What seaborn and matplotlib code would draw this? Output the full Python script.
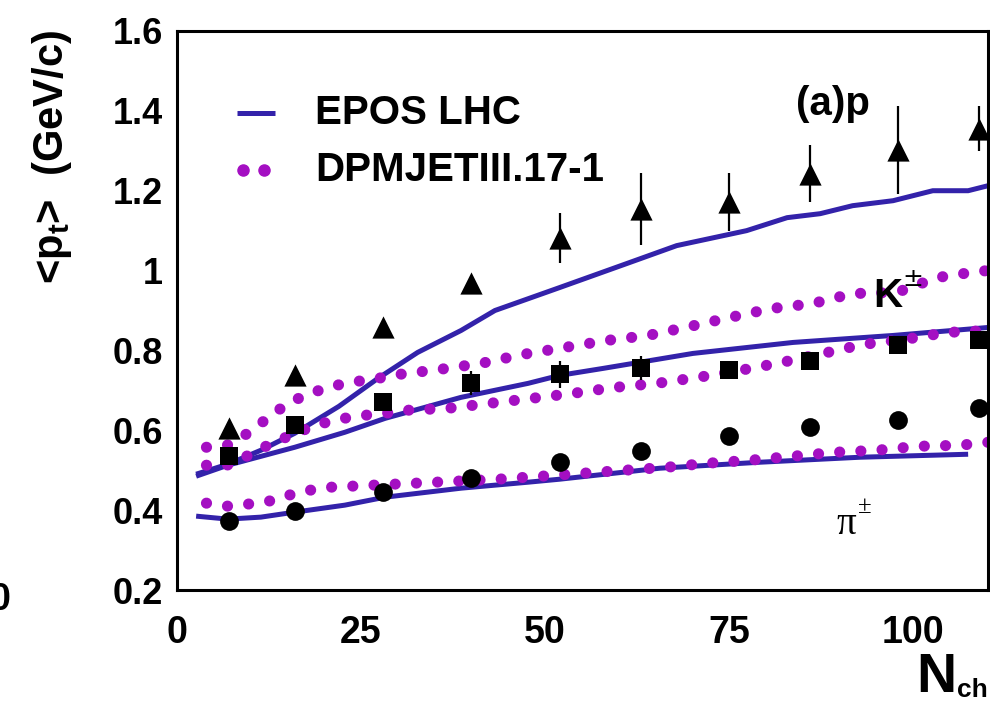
import matplotlib
matplotlib.use("Agg")
import matplotlib.pyplot as plt
from matplotlib.ticker import MultipleLocator
import seaborn as sns

# ---- measured <pT> vs charged multiplicity ----
nch = [7, 16, 28, 40, 52, 63, 75, 86, 98, 109]
proton_pt = [0.605, 0.7375, 0.8575, 0.970, 1.0825, 1.155, 1.1725, 1.2425, 1.3025, 1.355]
proton_err = [0.010, 0.010, 0.010, 0.015, 0.0625, 0.090, 0.073, 0.072, 0.110, 0.056]
kaon_pt = [0.535, 0.6125, 0.670, 0.7175, 0.740, 0.755, 0.750, 0.7725, 0.8125, 0.825]
kaon_err = [0.010, 0.010, 0.015, 0.030, 0.034, 0.030, 0.010, 0.010, 0.010, 0.010]
pion_pt = [0.3725, 0.3975, 0.445, 0.480, 0.520, 0.5475, 0.585, 0.6075, 0.625, 0.655]
pion_err = [0.005] * 10

# ---- EPOS LHC predictions ----
epos_p_x = [2.6, 6.9, 11.4, 16, 22, 27.3, 32.7, 38.6, 43.2, 52, 61.1, 67.9, 77.4,
            82.9, 87.4, 91.8, 97.3, 102.7, 107.5, 110.2]
epos_p_y = [0.490, 0.515, 0.550, 0.5925, 0.660, 0.730, 0.795, 0.850, 0.900, 0.9575,
            1.0175, 1.0625, 1.100, 1.1325, 1.1425, 1.1625, 1.175, 1.200, 1.200, 1.2125]
epos_k_x = [2.6, 6.9, 16, 22.8, 28.3, 38.6, 47.7, 52, 57.9, 70.1, 83.7, 97.3, 110.2]
epos_k_y = [0.485, 0.5125, 0.5575, 0.595, 0.630, 0.6825, 0.7175, 0.7375, 0.755,
            0.7925, 0.820, 0.8375, 0.8575]
epos_pi_x = [2.6, 6.9, 11.4, 16, 22.8, 28.3, 38.6, 47.7, 52, 65.6, 79.2, 92.8, 107.5]
epos_pi_y = [0.385, 0.3775, 0.3825, 0.395, 0.4125, 0.4325, 0.455, 0.470, 0.4775,
             0.505, 0.520, 0.5325, 0.540]

# ---- DPMJETIII.17-1 predictions ----
dpm_p_x = [4, 6.8, 9.2, 11.4, 13.7, 16.2, 18.9, 21.6, 24.5, 27.3, 30.2, 35.7, 41.3,
           47, 52.7, 58.4, 64, 69.7, 75.1, 80.8, 86.4, 91.8, 97.8, 103.3, 108.7, 110.2]
dpm_p_y = [0.5575, 0.5625, 0.5875, 0.6175, 0.650, 0.6775, 0.6975, 0.7125, 0.7225,
           0.730, 0.740, 0.7525, 0.7675, 0.790, 0.8075, 0.825, 0.8375, 0.860, 0.8825,
           0.905, 0.9175, 0.9425, 0.945, 0.9825, 0.9975, 1.000]
dpm_k_x = [4, 6.8, 9.2, 11.8, 14.5, 17.1, 19.8, 22.7, 25.5, 28.3, 31.1, 36.8, 42.5,
           48.2, 53.8, 59.5, 65.2, 70.8, 76.5, 82.2, 87.8, 93.2, 98.9, 104.6, 110.2]
dpm_k_y = [0.5125, 0.5125, 0.5325, 0.5575, 0.580, 0.600, 0.6175, 0.630, 0.6375,
           0.6425, 0.650, 0.655, 0.6675, 0.680, 0.6925, 0.7075, 0.7175, 0.7325,
           0.750, 0.770, 0.7925, 0.815, 0.8275, 0.845, 0.850]
dpm_pi_x = [4, 6.8, 9.6, 12.5, 15.2, 18.1, 20.9, 26.5, 32.3, 37.9, 43.6, 49.5, 55.2,
            60.9, 66.6, 72.1, 77.9, 83.7, 89.4, 95.1, 100.7, 106.4, 110.2]
dpm_pi_y = [0.4175, 0.410, 0.415, 0.4225, 0.4375, 0.450, 0.4575, 0.4625, 0.4675,
            0.4725, 0.4775, 0.485, 0.4925, 0.500, 0.5075, 0.5175, 0.525, 0.535,
            0.545, 0.550, 0.560, 0.5625, 0.570]

EPOS_COLOR = "#3322aa"
DPM_COLOR = "#a40fc2"

sns.set_theme(style="white")
plt.rcParams["font.family"] = ["Liberation Sans", "DejaVu Sans"]
plt.rcParams["font.weight"] = "bold"
for key in ("text.color", "axes.labelcolor", "xtick.color", "ytick.color",
            "xtick.labelcolor", "ytick.labelcolor"):
    plt.rcParams[key] = "black"
plt.rcParams["mathtext.fontset"] = "custom"
plt.rcParams["mathtext.rm"] = "Liberation Sans:bold"
plt.rcParams["mathtext.bf"] = "Liberation Sans:bold"
plt.rcParams["mathtext.default"] = "bf"

fig = plt.figure(figsize=(9.9, 7.05), dpi=100)
ax = fig.add_axes([177 / 990, 1 - 590 / 705, 811 / 990, 559 / 705])

# model curves
solid_kw = dict(color=EPOS_COLOR, lw=3.6, sort=False, estimator=None, ax=ax,
                solid_capstyle="butt", zorder=2)
for xs, ys in [(epos_p_x, epos_p_y), (epos_k_x, epos_k_y), (epos_pi_x, epos_pi_y)]:
    sns.lineplot(x=xs, y=ys, **solid_kw)

dot_kw = dict(color=DPM_COLOR, lw=8.0, sort=False, estimator=None, ax=ax,
              linestyle=(0, (0.01, 1.9)), dash_capstyle="round", zorder=2)
for xs, ys in [(dpm_p_x, dpm_p_y), (dpm_k_x, dpm_k_y), (dpm_pi_x, dpm_pi_y)]:
    sns.lineplot(x=xs, y=ys, **dot_kw)

# data points with error bars
for ys, es, mk, ms in [(proton_pt, proton_err, "^", 16),
                       (kaon_pt, kaon_err, "s", 13.5),
                       (pion_pt, pion_err, "o", 13.5)]:
    ax.errorbar(nch, ys, yerr=es, fmt="none", ecolor="black", elinewidth=1.6,
                capsize=0, zorder=3)
    sns.scatterplot(x=nch, y=ys, marker=mk, s=ms ** 2, color="black",
                    edgecolor="black", linewidth=0, ax=ax, zorder=4, clip_on=False)

ax.set_xlim(0, 110.2)
ax.set_ylim(0.2, 1.6)
ax.xaxis.set_minor_locator(MultipleLocator(5))
ax.yaxis.set_minor_locator(MultipleLocator(0.05))
ax.set_xticks([0, 25, 50, 75, 100])
ax.set_xticklabels(["0", "25", "50", "75", "100"])
ax.set_yticks([0.2, 0.4, 0.6, 0.8, 1.0, 1.2, 1.4, 1.6])
ax.set_yticklabels(["0.2", "0.4", "0.6", "0.8", "1", "1.2", "1.4", "1.6"])
ax.tick_params(which="both", direction="in", top=False, right=False,
               color="#333333", width=1.2)
ax.tick_params(which="major", length=21.6)
ax.tick_params(which="minor", length=10.8)
ax.tick_params(axis="x", which="major", labelsize=27, pad=18)
ax.tick_params(axis="y", which="major", labelsize=26, pad=10)
for lab in ax.get_xticklabels() + ax.get_yticklabels():
    lab.set_fontweight("bold")
for side in ax.spines.values():
    side.set_linewidth(2.2)
    side.set_color("black")

# axis titles
fig.text(52 / 990, 1 - 30 / 705, r"<p$_{\mathbf{t}}$>  (GeV/c)", rotation=90,
         ha="center", va="top", fontsize=30, fontweight="bold")
fig.text(956 / 990, 1 - 692 / 705, "N", ha="right", va="baseline",
         fontsize=40, fontweight="bold")
fig.text(957 / 990, 1 - 697 / 705, "ch", ha="left", va="baseline",
         fontsize=19, fontweight="bold")
fig.text(0.0, 1 - 600 / 705, "0", ha="center", va="center", fontsize=27,
         fontweight="bold")

# legend
ax.plot([0.074, 0.121], [0.853, 0.853], transform=ax.transAxes, color=EPOS_COLOR,
        lw=3.6, solid_capstyle="butt")
ax.plot([0.0814, 0.1073], [0.751, 0.751], transform=ax.transAxes, ls="none",
        marker="o", ms=8, color=DPM_COLOR)
ax.text(0.170, 0.853, "EPOS LHC", transform=ax.transAxes, ha="left", va="center",
        fontsize=29, fontweight="bold")
ax.text(0.170, 0.751, "DPMJETIII.17-1", transform=ax.transAxes, ha="left",
        va="center", fontsize=29, fontweight="bold")

# particle labels
ax.text(96.6, 0.9375, "K", ha="center", va="center", fontsize=29, fontweight="bold")
ax.text(100.0, 0.978, "\u00b1", ha="center", va="center", fontsize=18,
        fontweight="normal", family=["DejaVu Sans"])
ax.text(89.1, 1.4175, "(a)p", ha="center", va="center", fontsize=29, fontweight="bold")
ax.text(91.0, 0.365, "\u03c0", ha="center", va="center", fontsize=28,
        fontweight="normal", family=["Liberation Serif", "DejaVu Serif"])
ax.text(93.5, 0.408, "\u00b1", ha="center", va="center", fontsize=18,
        fontweight="normal", family=["Liberation Serif", "DejaVu Serif"])

fig.savefig("out.png", dpi=100)
